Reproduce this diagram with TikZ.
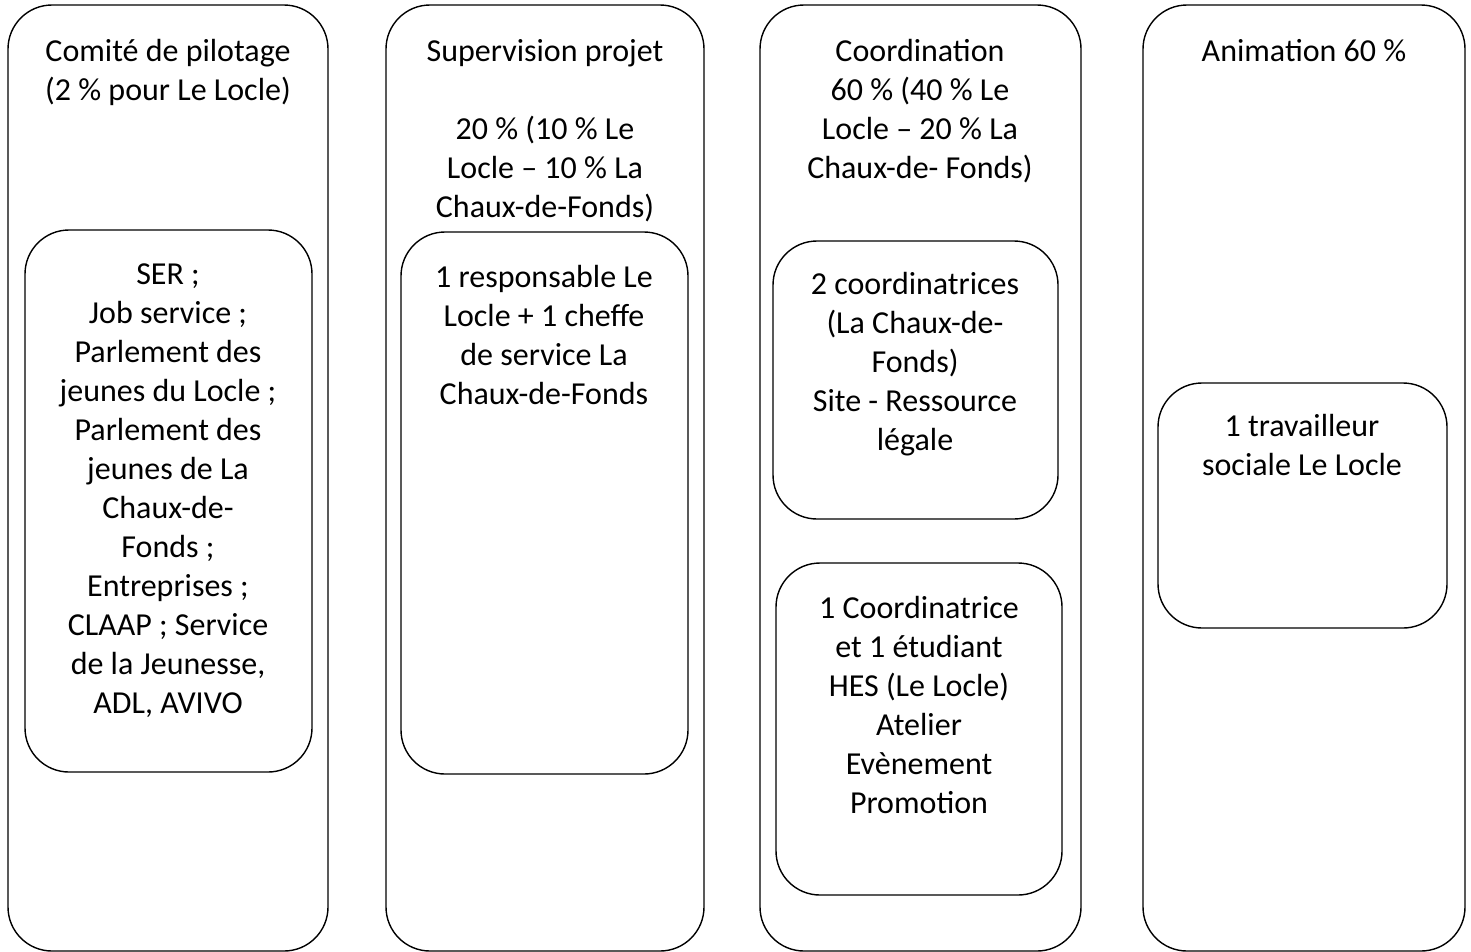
\documentclass[tikz,border=0pt]{standalone}
\usepackage{fontspec}
\setmainfont{Carlito}
\tikzset{
  outerbox/.style={draw=black, line width=1.4pt, rounded corners=44pt},
  innerbox/.style={draw=black, line width=1.4pt, rounded corners=44pt},
  txt/.style={anchor=base, align=center, inner sep=0pt, font=\fontsize{32}{39}\selectfont},
}
\begin{document}
\begin{tikzpicture}[x=1pt,y=-1pt]
\useasboundingbox (0,0) rectangle (1471,951);
% outer columns
\draw[outerbox] (8,5) rectangle (328,951) coordinate (o1);
\draw[outerbox] (386,5) rectangle (704,951) coordinate (o2);
\draw[outerbox] (760,5) rectangle (1081,951) coordinate (o3);
\draw[outerbox] (1143,5) rectangle (1465,951) coordinate (o4);
% inner boxes
\draw[innerbox] (25,230) rectangle (312,772) coordinate (i1);
\draw[innerbox] (401,232) rectangle (688,774) coordinate (i2);
\draw[innerbox] (773,241) rectangle (1058,519) coordinate (i3a);
\draw[innerbox] (776,563) rectangle (1062,895) coordinate (i3b);
\draw[innerbox] (1158,383) rectangle (1447,628) coordinate (i4);
% titles (anchor base = baseline of last line)
\node[txt] (t1) at (168,100) {Comité de pilotage\\(2 \% pour Le Locle)};
\node[txt] (t2) at (545,217) {Supervision projet\\[39pt]20 \% (10 \% Le\\Locle – 10 \% La\\Chaux-de-Fonds)};
\node[txt] (t3) at (920,178) {Coordination\\60 \% (40 \% Le\\Locle – 20 \% La\\Chaux-de- Fonds)};
\node[txt] (t4) at (1304,61) {Animation 60 \%};
% inner texts
\node[txt] (x1) at (168,713) {SER ;\\Job service ;\\Parlement des\\jeunes du Locle ;\\Parlement des\\jeunes de La\\Chaux-de-\\Fonds ;\\Entreprises ;\\CLAAP ; Service\\de la Jeunesse,\\ADL, AVIVO};
\node[txt] (x2) at (544,404) {1 responsable Le\\Locle + 1 cheffe\\de service La\\Chaux-de-Fonds};
\node[txt] (x3a) at (915,450) {2 coordinatrices\\(La Chaux-de-\\Fonds)\\Site - Ressource\\légale};
\node[txt] (x3b) at (919,813) {1 Coordinatrice\\et 1 étudiant\\HES (Le Locle)\\Atelier\\Evènement\\Promotion};
\node[txt] (x4) at (1302,475) {1 travailleur\\sociale Le Locle};
\end{tikzpicture}
\end{document}
